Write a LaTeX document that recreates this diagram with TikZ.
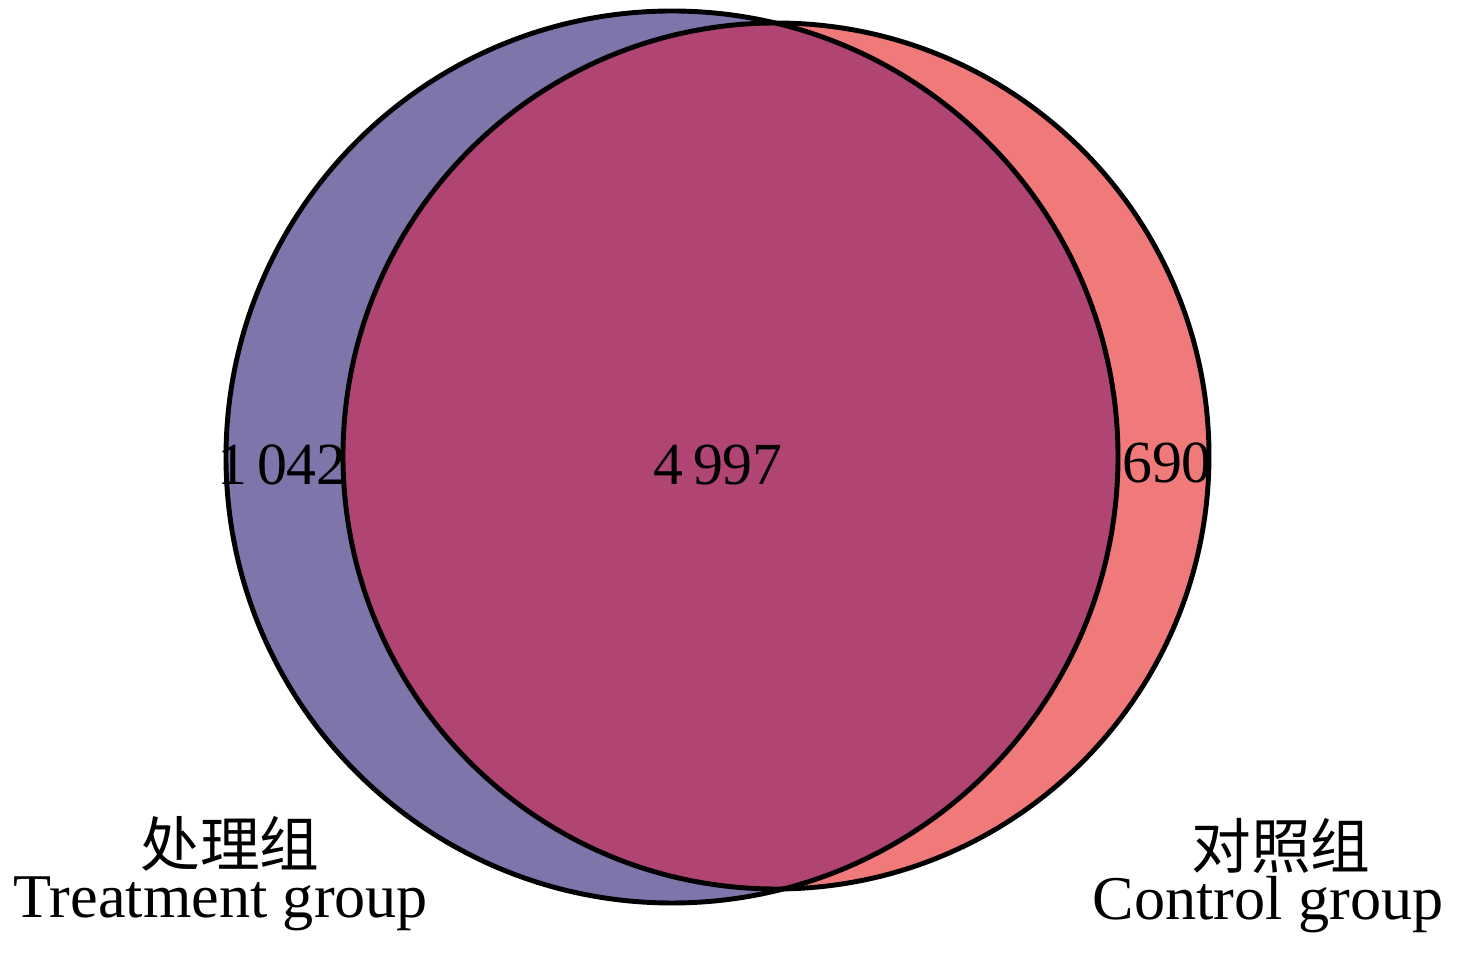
\documentclass[tikz,border=0pt]{standalone}
\usepackage{fontspec}
\setmainfont{Liberation Serif}
\newfontfamily\cjk{Noto Sans CJK SC}
\usepackage{tikz}
\usetikzlibrary{positioning}
\definecolor{trtblue}{RGB}{126,117,171}
\definecolor{ctlred}{RGB}{240,122,122}
\definecolor{bothred}{RGB}{176,68,114}
\tikzset{
  setline/.style={draw=black, line width=1.4pt},
  count/.style={font=\fontsize{17}{20}\selectfont, anchor=base, inner sep=0pt},
  grouplbl/.style={font=\fontsize{17.7}{20}\selectfont, inner sep=0pt},
  groupzh/.style={font=\fontsize{17}{20}\selectfont\cjk, inner sep=0pt}
}
\begin{document}
\begin{tikzpicture}
  \useasboundingbox (0,0) rectangle (14.66,9.53);
  \coordinate (trt) at (6.72,4.96);
  \coordinate (ctl) at (7.76,4.97);

  \fill[trtblue] (trt) circle (4.46);
  \fill[ctlred] (ctl) circle (4.33);
  \begin{scope}
    \clip (trt) circle (4.46);
    \fill[bothred] (ctl) circle (4.33);
  \end{scope}
  \draw[setline] (trt) circle (4.46);
  \draw[setline] (ctl) circle (4.33);

  \node[count] (nTrt) at (2.82,4.68) {1\,042};
  \node[count] (nBoth) at (7.18,4.68) {4\,997};
  \node[count] (nCtl) at (11.67,4.70) {690};

  \node[groupzh] (trtZh) at (2.30,1.09) {处理组};
  \node[grouplbl, anchor=base] (trtEn) at (2.21,0.35) {Treatment group};
  \node[groupzh] (ctlZh) at (12.81,1.07) {对照组};
  \node[grouplbl, anchor=base] (ctlEn) at (12.68,0.33) {Control group};
\end{tikzpicture}
\end{document}
